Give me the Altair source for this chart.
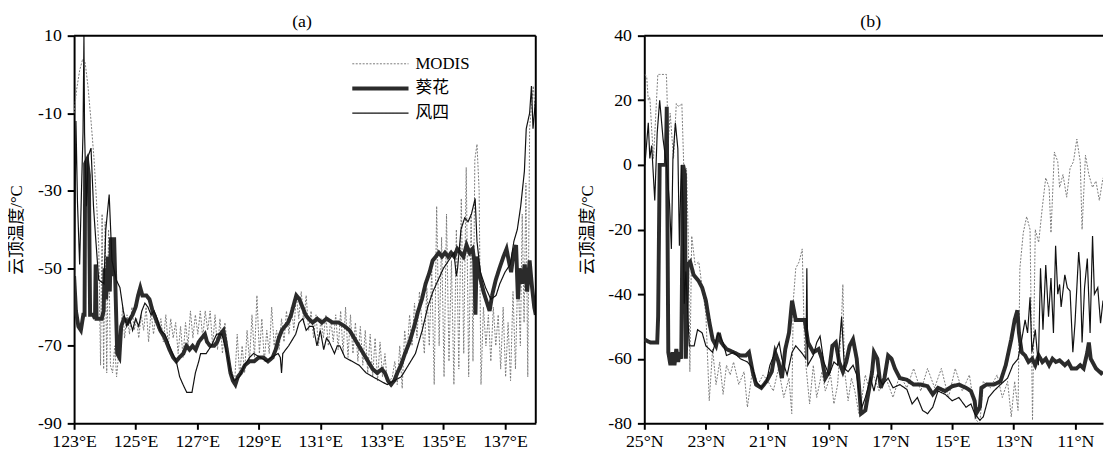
import altair as alt
import pandas as pd

FONT = "Liberation Serif"
CJK_FONT = "Liberation Serif, Noto Sans CJK SC"
SERIES = ["MODIS", "葵花", "风四"]

# ---------------- panel (a) ----------------
a_modis_lon = [123.00,123.08,123.18,123.28,123.36,123.45,123.55,123.65,123.73,123.80,123.86,123.91,123.96,124.01,124.06,124.12,124.18,124.25,124.32,124.38,124.45,124.52,124.58,124.64,124.72,124.80,124.88,124.95,125.03,125.10,125.18,125.26,125.34,125.42,125.50,125.58,125.66,125.74,125.82,125.90,125.98,126.06,126.14,126.22,126.30,126.38,126.46,126.54,126.62,126.70,126.78,126.86,126.94,127.02,127.10,127.18,127.26,127.34,127.42,127.50,127.58,127.66,127.74,127.82,127.90,127.98,128.06,128.14,128.22,128.30,128.38,128.46,128.54,128.62,128.70,128.78,128.86,128.94,129.02,129.10,129.18,129.26,129.34,129.42,129.50,129.58,129.66,129.74,129.82,129.90,129.98,130.06,130.14,130.22,130.30,130.38,130.46,130.54,130.62,130.70,130.78,130.86,130.94,131.02,131.10,131.18,131.26,131.34,131.42,131.50,131.58,131.66,131.74,131.82,131.90,131.98,132.06,132.14,132.22,132.30,132.38,132.46,132.54,132.62,132.70,132.78,132.86,132.94,133.02,133.10,133.18,133.26,133.34,133.42,133.50,133.58,133.66,133.74,133.82,133.90,133.98,134.06,134.14,134.22,134.30,134.38,134.46,134.54,134.62,134.70,134.78,134.86,134.94,135.02,135.10,135.18,135.26,135.34,135.42,135.50,135.58,135.66,135.74,135.82,135.90,135.96,136.02,136.09,136.16,136.22,136.30,136.38,136.46,136.54,136.62,136.70,136.78,136.86,136.94,137.02,137.10,137.18,137.26,137.34,137.42,137.50,137.56,137.62,137.68,137.74,137.80,137.86,137.92,138.00]
a_modis_t = [-10,-4,1,4,3,-3,-12,-22,-33,-44,-75,-36,-76,-38,-77,-40,-75,-77,-70,-78,-72,-66,-60,-68,-62,-67,-60,-66,-63,-68,-62,-66,-60,-69,-61,-67,-62,-66,-63,-69,-62,-70,-63,-68,-64,-72,-65,-73,-64,-70,-61,-68,-62,-67,-61,-68,-61,-66,-61,-70,-62,-71,-63,-72,-64,-70,-75,-77,-79,-67,-78,-70,-77,-66,-74,-62,-73,-57,-72,-63,-74,-66,-72,-60,-70,-66,-71,-63,-69,-61,-67,-60,-66,-57,-63,-56,-64,-57,-66,-61,-68,-62,-70,-63,-68,-62,-70,-63,-69,-62,-71,-61,-72,-60,-73,-62,-72,-64,-74,-65,-75,-66,-77,-67,-78,-68,-79,-69,-78,-72,-80,-79,-78,-74,-80,-70,-81,-66,-72,-62,-70,-59,-68,-56,-64,-72,-55,-70,-50,-80,-34,-70,-42,-78,-36,-74,-48,-80,-40,-76,-32,-72,-24,-78,-36,-74,-22,-18,-30,-80,-60,-70,-62,-74,-60,-70,-62,-76,-60,-78,-64,-79,-56,-76,-50,-70,-36,-64,-28,-78,-14,-8,-3,-12]

a_hima_lon = [123.00,123.06,123.14,123.22,123.30,123.34,123.36,123.42,123.48,123.52,123.62,123.68,123.70,123.73,123.90,123.96,123.99,124.04,124.10,124.16,124.20,124.26,124.30,124.36,124.40,124.47,124.53,124.62,124.75,124.90,125.00,125.08,125.15,125.22,125.35,125.45,125.55,125.65,125.80,125.95,126.10,126.22,126.32,126.42,126.55,126.65,126.75,126.85,126.95,127.05,127.15,127.25,127.32,127.42,127.55,127.65,127.75,127.85,127.92,128.00,128.08,128.16,128.24,128.32,128.42,128.55,128.70,128.85,129.00,129.15,129.30,129.45,129.55,129.65,129.75,129.85,129.95,130.05,130.15,130.22,130.32,130.42,130.52,130.62,130.75,130.90,131.05,131.20,131.40,131.60,131.80,131.95,132.10,132.25,132.40,132.55,132.70,132.85,133.00,133.10,133.20,133.30,133.40,133.50,133.62,133.75,133.90,134.05,134.18,134.30,134.42,134.55,134.65,134.75,134.85,134.95,135.05,135.15,135.25,135.35,135.45,135.55,135.65,135.75,135.85,135.95,136.00,136.04,136.08,136.18,136.30,136.42,136.50,136.58,136.70,136.82,136.95,137.05,137.12,137.20,137.28,137.36,137.42,137.48,137.56,137.64,137.72,137.80,137.88,137.95,138.00]
a_hima_t = [-52,-61,-65,-66,-62,-62,-23,-22,-26,-62,-62,-63,-49,-63,-63,-61,-50,-58,-47,-56,-42,-52,-42,-60,-72,-73,-65,-63,-64,-62,-60,-57,-55,-57,-57,-58,-61,-63,-66,-68,-71,-73,-74,-73,-72,-70,-71,-70,-71,-69,-68,-67,-69,-70,-70,-69,-67,-66,-69,-73,-77,-79,-80,-78,-77,-75,-74,-74,-73,-73,-74,-73,-71,-68,-66,-65,-64,-62,-59,-57,-58,-60,-62,-63,-64,-63,-64,-63,-64,-64,-65,-66,-68,-70,-72,-74,-76,-77,-76,-77,-79,-80,-79,-77,-75,-72,-69,-65,-61,-58,-54,-51,-48,-47,-46,-47,-46,-47,-46,-47,-45,-46,-47,-44,-46,-45,-48,-62,-47,-52,-56,-59,-61,-57,-53,-50,-47,-45,-48,-51,-46,-44,-58,-50,-54,-49,-56,-48,-55,-60,-62]

a_fy4_lon = [123.00,123.06,123.11,123.18,123.24,123.29,123.32,123.34,123.40,123.46,123.55,123.63,123.69,123.80,123.97,124.03,124.14,124.23,124.37,124.49,124.60,124.71,124.80,124.90,125.00,125.10,125.20,125.30,125.40,125.50,125.60,125.70,125.80,125.95,126.05,126.20,126.32,126.43,126.54,126.66,126.83,126.94,127.05,127.11,127.29,127.46,127.63,127.80,127.97,128.09,128.20,128.37,128.54,128.70,128.83,129.06,129.25,129.40,129.63,129.70,129.74,129.78,129.97,130.20,130.31,130.43,130.54,130.65,130.77,130.89,131.00,131.11,131.20,131.29,131.46,131.55,131.63,131.80,132.03,132.26,132.49,132.71,132.94,133.17,133.40,133.63,133.86,134.09,134.31,134.49,134.66,134.83,135.00,135.17,135.34,135.42,135.46,135.57,135.69,135.80,135.91,136.03,136.09,136.20,136.37,136.54,136.71,136.83,137.00,137.17,137.29,137.40,137.51,137.63,137.69,137.80,137.86,137.91,138.00]
a_fy4_t = [-62,-12,-33,-49,-30,-15,10,-15,-34,-21,-19,-34,-41,-53,-54,-40,-31,-48,-53,-55,-61,-65,-63,-66,-63,-65,-61,-59,-60,-62,-61,-63,-66,-67,-69,-72,-74,-78,-80,-82,-82,-77,-74,-72,-72,-70,-67,-67,-72,-77,-79,-78,-75,-73,-72,-73,-74,-73,-72,-73,-77,-72,-70,-67,-64,-63,-66,-65,-65,-70,-66,-71,-68,-69,-72,-70,-70,-73,-74,-75,-77,-78,-79,-80,-79,-78,-75,-72,-66,-60,-56,-53,-50,-48,-46,-52,-50,-40,-37,-38,-36,-32,-43,-51,-55,-58,-57,-54,-51,-49,-43,-40,-34,-25,-14,-10,-3,-14,-6]

# ---------------- panel (b) ----------------
b_modis_lat = [24.97,24.92,24.87,24.82,24.76,24.70,24.56,24.50,24.28,24.22,24.16,24.05,23.96,23.88,23.78,23.71,23.63,23.57,23.52,23.46,23.35,23.23,23.12,23.00,22.89,22.78,22.67,22.55,22.44,22.33,22.21,22.10,21.93,21.76,21.65,21.48,21.31,21.14,20.98,20.81,20.64,20.47,20.30,20.21,20.16,20.08,19.97,19.87,19.79,19.63,19.51,19.40,19.23,19.12,18.95,18.84,18.72,18.61,18.55,18.50,18.38,18.27,18.16,18.03,17.93,17.82,17.71,17.60,17.37,17.15,16.92,16.70,16.47,16.25,16.02,15.80,15.57,15.35,15.12,14.90,14.67,14.44,14.22,14.10,13.99,13.76,13.54,13.37,13.20,13.08,12.97,12.86,12.80,12.69,12.58,12.47,12.39,12.30,12.19,12.07,11.96,11.85,11.79,11.68,11.57,11.51,11.40,11.28,11.17,11.06,10.95,10.84,10.78,10.67,10.56,10.44,10.33,10.22,10.10]
b_modis_t = [28,27,20,21,11,2,28,28,28,7,16,2,19,18,19,-3,-1,-23,-64,-22,-31,-30,-38,-46,-73,-57,-68,-61,-71,-62,-65,-61,-68,-64,-75,-63,-68,-65,-67,-70,-63,-72,-66,-77,-42,-32,-30,-26,-58,-74,-62,-72,-64,-70,-65,-74,-68,-52,-37,-63,-73,-66,-70,-77,-72,-65,-69,-64,-70,-66,-72,-65,-69,-63,-70,-63,-69,-63,-72,-63,-70,-65,-79,-80,-67,-69,-65,-72,-67,-78,-67,-76,-32,-21,-16,-20,-79,-20,-24,-13,-4,-7,-21,4,1,-7,-3,-10,-1,1,8,1,-20,3,-3,-7,-5,-11,-4]

b_hima_lat = [25.00,24.80,24.58,24.55,24.50,24.30,24.27,24.22,24.15,24.08,24.02,23.96,23.90,23.85,23.80,23.74,23.68,23.65,23.60,23.51,23.40,23.23,23.12,23.00,22.90,22.78,22.67,22.58,22.50,22.33,22.10,21.88,21.70,21.60,21.48,21.37,21.20,21.03,20.86,20.75,20.64,20.53,20.42,20.30,20.20,20.08,19.90,19.79,19.68,19.51,19.34,19.23,19.12,19.00,18.89,18.78,18.67,18.55,18.44,18.33,18.22,18.10,18.03,17.96,17.82,17.71,17.60,17.54,17.43,17.32,17.20,17.08,16.97,16.86,16.70,16.47,16.25,16.02,15.80,15.63,15.46,15.23,15.00,14.78,14.55,14.39,14.27,14.22,14.10,14.05,13.88,13.65,13.43,13.26,13.08,12.97,12.88,12.83,12.74,12.63,12.52,12.40,12.30,12.19,12.07,11.96,11.85,11.74,11.63,11.51,11.34,11.23,11.12,10.96,10.84,10.73,10.61,10.56,10.50,10.33,10.16,10.10]
b_hima_t = [-54,-55,-55,-47,0,0,18,-58,-62,-58,-62,-57,-61,-58,-60,0,-3,-60,-31,-30,-34,-36,-38,-42,-48,-54,-56,-52,-55,-57,-58,-59,-59,-58,-64,-68,-69,-67,-64,-58,-61,-66,-57,-52,-42,-48,-48,-48,-55,-58,-57,-60,-66,-64,-56,-55,-61,-64,-61,-56,-54,-60,-68,-77,-76,-70,-64,-58,-60,-69,-66,-59,-60,-63,-66,-66.5,-68,-68,-68.5,-71,-69,-70,-68.5,-68,-69,-70,-73,-77,-75,-69,-68,-68,-67,-62,-54,-48,-45,-52,-58,-59,-61,-60,-62,-59,-61,-60,-62,-60,-61,-60.5,-62,-61,-63,-63,-62,-63,-58,-55,-60,-63,-64.5,-64]

b_fy4_lat = [24.98,24.87,24.82,24.76,24.66,24.58,24.50,24.39,24.28,24.18,24.12,24.07,23.99,23.91,23.86,23.80,23.75,23.70,23.65,23.54,23.38,23.27,23.12,23.00,22.78,22.60,22.44,22.33,22.10,21.88,21.65,21.48,21.37,21.20,21.03,20.92,20.75,20.62,20.53,20.36,20.20,20.08,19.90,19.75,19.72,19.69,19.51,19.40,19.29,19.17,19.00,18.84,18.72,18.59,18.50,18.38,18.22,18.10,18.03,17.93,17.82,17.65,17.54,17.43,17.26,17.08,16.92,16.70,16.47,16.30,16.13,15.96,15.80,15.63,15.46,15.23,15.00,14.78,14.55,14.39,14.27,14.10,13.99,13.82,13.65,13.43,13.20,13.03,12.86,12.74,12.63,12.55,12.47,12.41,12.30,12.20,12.13,12.05,11.96,11.87,11.79,11.71,11.64,11.57,11.51,11.46,11.34,11.26,11.17,11.08,11.01,10.89,10.84,10.78,10.70,10.61,10.52,10.44,10.38,10.27,10.18,10.10]
b_fy4_t = [0,13,2,6,-11,10,20,8,0,-12,-26,2,13,5,-25,0,-10,-43,-33,-56,-56,-51,-52,-56,-58,-52,-55,-59,-58,-60,-61,-63,-67,-69,-67,-62,-58,-55,-60,-65,-58,-56,-58,-60,-32,-62,-59,-55,-53,-61,-65,-61,-62,-47,-63,-64,-62,-65,-70,-75,-72,-66,-70,-65,-68,-66,-69,-68,-69.5,-74,-72,-76,-77,-75,-70,-71,-73,-72,-75,-74,-77,-79,-78,-72,-70,-68,-66,-62,-60,-54,-48,-52,-41,-58,-51,-62,-32,-51,-31,-47,-35,-52,-25,-40,-37,-44,-34,-38,-39,-58,-49,-27,-33,-55,-38,-29,-52,-22,-40,-38,-49,-42]

a_xticks = [123, 125, 127, 129, 131, 133, 135, 137]
a_yticks = [10, -10, -30, -50, -70, -90]
b_xticks = [25, 23, 21, 19, 17, 15, 13, 11]
b_yticks = [40, 20, 0, -20, -40, -60, -80]


def build_df(parts):
    frames = []
    for name, xs, ts in parts:
        frames.append(pd.DataFrame({"x": xs, "t": ts, "series": name}))
    return pd.concat(frames, ignore_index=True)


df_a = build_df([("MODIS", a_modis_lon, a_modis_t), ("葵花", a_hima_lon, a_hima_t), ("风四", a_fy4_lon, a_fy4_t)])
df_b = build_df([("MODIS", b_modis_lat, b_modis_t), ("葵花", b_hima_lat, b_hima_t), ("风四", b_fy4_lat, b_fy4_t)])

H = 393
Y_LABEL = "datum.value < 0 ? '-' + abs(datum.value) : '' + datum.value"


def panel(df, xdomain, xticks, label_expr, ydomain, yticks, title, dx, width, legx, right_border):
    leg = alt.Legend(title=None, orient="none", legendX=legx, legendY=20,
                     symbolType="M-5.7,0H5.7", symbolSize=100,
                     labelFont=CJK_FONT, labelFontSize=17, labelColor="black",
                     labelOffset=27, rowPadding=7, padding=0)
    lines = alt.Chart(df).mark_line(clip=True).encode(
        x=alt.X("x:Q", title=None,
                scale=alt.Scale(domain=xdomain, nice=False, zero=False),
                axis=alt.Axis(values=xticks, labelExpr=label_expr, labelOverlap=False, labelFlush=False)),
        y=alt.Y("t:Q", title="云顶温度/°C",
                scale=alt.Scale(domain=ydomain, nice=False, zero=False),
                axis=alt.Axis(values=yticks, labelExpr=Y_LABEL, labelOverlap=False, labelFlush=False)),
        color=alt.Color("series:N", scale=alt.Scale(type="ordinal", domain=SERIES,
                                                    range=["#7a7a7a", "#2b2b2b", "#111111"]), legend=leg),
        strokeWidth=alt.StrokeWidth("series:N", scale=alt.Scale(type="ordinal", domain=SERIES,
                                                                range=[1.0, 4.0, 1.2]), legend=leg),
        strokeDash=alt.StrokeDash("series:N", scale=alt.Scale(type="ordinal", domain=SERIES,
                                                              range=[[2, 1.5], [1, 0], [1, 0]]), legend=leg),
    )
    one = pd.DataFrame({"k": [0]})
    top = alt.Chart(one).mark_rule(color="black", strokeWidth=2).encode(
        x=alt.value(0), x2=alt.value(width), y=alt.value(0))
    layers = [lines, top]
    if right_border:
        right = alt.Chart(one).mark_rule(color="black", strokeWidth=2).encode(
            x=alt.value(width), y=alt.value(0), y2=alt.value(H))
        layers.append(right)
    return alt.layer(*layers).properties(
        width=width, height=H,
        title=alt.TitleParams(text=title, font=FONT, fontSize=18, fontWeight="normal",
                              color="black", offset=-4, dx=dx, frame="group"))


pa = panel(df_a, [123, 138], a_xticks, "datum.value + '°E'", [-90, 10], a_yticks,
           "(a)", -3, 468, 302, True)
pb = panel(df_b, [25, 10.1], b_xticks, "datum.value == 15 ? '15°E' : datum.value + '°N'",
           [-80, 40], b_yticks, "(b)", -3, 465, 305, False)

chart = alt.hconcat(pa, pb, spacing=42).properties(
    padding={"top": 2, "left": 0, "right": 0, "bottom": 0}
).configure_view(
    strokeWidth=0
).configure_axis(
    grid=False, labelFont=FONT, labelFontSize=18, labelColor="black",
    titleFont=CJK_FONT, titleFontSize=17, titleFontWeight="normal", titleColor="black",
    domainColor="black", domainWidth=2, tickColor="black", tickWidth=2,
).configure_axisX(tickSize=6, labelPadding=3).configure_axisY(
    tickSize=7, labelPadding=6, titlePadding=12
)

chart.save("out.html", embed_options={"renderer": "svg", "actions": False})
